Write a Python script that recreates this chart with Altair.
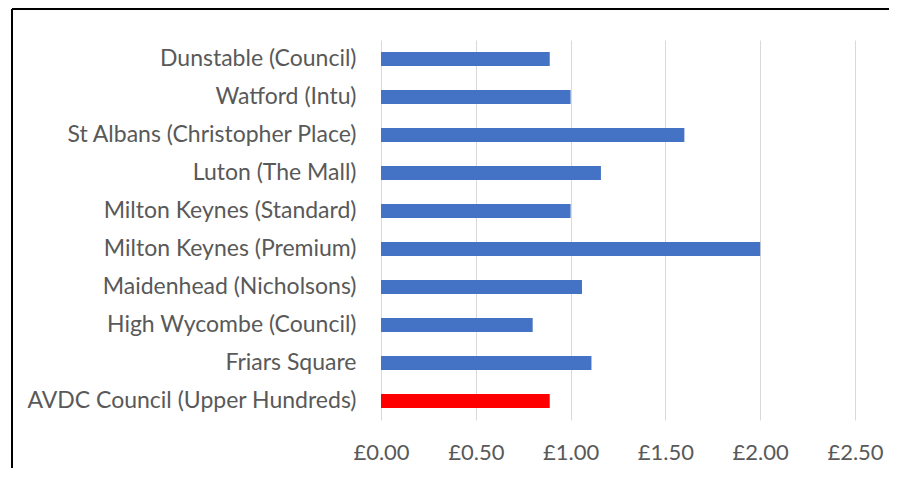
import altair as alt
import pandas as pd

sites = [
    "Dunstable (Council)",
    "Watford (Intu)",
    "St Albans (Christopher Place)",
    "Luton (The Mall)",
    "Milton Keynes (Standard)",
    "Milton Keynes (Premium)",
    "Maidenhead (Nicholsons)",
    "High Wycombe (Council)",
    "Friars Square",
    "AVDC Council (Upper Hundreds)",
]
prices = [0.89, 1.00, 1.60, 1.16, 1.00, 2.00, 1.06, 0.80, 1.11, 0.89]
x_ticks = [0, 0.5, 1.0, 1.5, 2.0, 2.5]
highlight = "AVDC Council (Upper Hundreds)"

df = pd.DataFrame({"site": sites, "price": prices})

FONT = "Lato"
GREY = "#595959"

bars = alt.Chart(df).mark_bar(size=14).encode(
    x=alt.X(
        "price:Q",
        scale=alt.Scale(domain=[0, 2.5], nice=False, zero=True),
        axis=alt.Axis(
            values=x_ticks,
            labelExpr="'£' + format(datum.value, '.2f')",
            title=None,
            grid=True,
            gridColor="#D9D9D9",
            gridWidth=1,
            domain=False,
            ticks=False,
            labelFlush=False,
            labelPadding=22,
            labelFont=FONT,
            labelFontSize=22,
            labelColor=GREY,
        ),
    ),
    y=alt.Y(
        "site:N",
        sort=None,
        scale=alt.Scale(paddingInner=0, paddingOuter=0),
        axis=alt.Axis(
            title=None,
            ticks=False,
            domain=False,
            grid=False,
            labelPadding=25,
            labelFont=FONT,
            labelFontSize=23,
            labelColor=GREY,
            labelLimit=400,
        ),
    ),
    color=alt.condition(
        alt.datum.site == highlight, alt.value("#FF0000"), alt.value("#4472C4")
    ),
)

frame_df = pd.DataFrame({"a": [0]})
frame_top = alt.Chart(frame_df).mark_rule(color="black", strokeWidth=2).encode(
    x=alt.value(-369), x2=alt.value(1000), y=alt.value(-31)
)
frame_left = alt.Chart(frame_df).mark_rule(color="black", strokeWidth=2).encode(
    x=alt.value(-369), y=alt.value(-31), y2=alt.value(1000)
)

chart = (
    alt.layer(bars, frame_top, frame_left)
    .properties(
        width=474,
        height=380,
        background="white",
        autosize=alt.AutoSizeParams(type="none"),
        padding={"left": 373, "top": 32, "right": 34, "bottom": 48},
    )
    .configure_view(stroke=None, strokeWidth=0)
)

chart.save("out.html", embed_options={"renderer": "svg", "actions": False})
